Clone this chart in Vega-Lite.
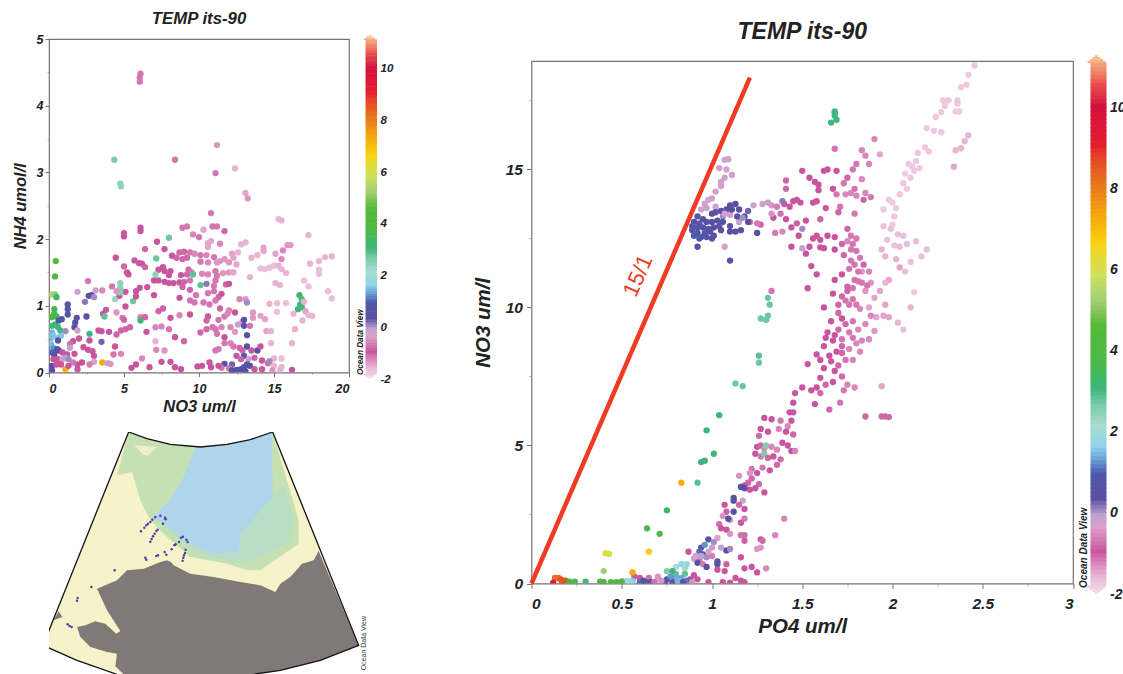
{"$schema":"https://vega.github.io/schema/vega-lite/v6.json","padding":{"left":11,"top":2,"right":0,"bottom":0},"background":"white",
"config":{"font":"Liberation Sans","view":{"stroke":"#7a706c","strokeWidth":1.2},"axis":{"grid":false,"domain":false,"labelFont":"Liberation Sans","labelFontStyle":"italic","labelFontWeight":"bold","labelColor":"#222","titleFont":"Liberation Sans","titleFontStyle":"italic","titleFontWeight":"bold","titleColor":"#222","tickColor":"#7a706c"},"title":{"font":"Liberation Sans","fontStyle":"italic","fontWeight":"bold","color":"#222"}},
"datasets":{
"a":[{"x":6.1,"y":4.48,"t":-1.2},{"x":6.05,"y":4.42,"t":-1.2},{"x":6.05,"y":4.36,"t":-1.2},{"x":11.2,"y":3.41,"t":-1.4},{"x":4.35,"y":3.19,"t":2.6},{"x":8.4,"y":3.19,"t":-1.2},{"x":12.4,"y":3.06,"t":-1.6},{"x":11.1,"y":2.99,"t":-1.2},{"x":4.75,"y":2.83,"t":2.4},{"x":4.8,"y":2.79,"t":2.4},{"x":13.1,"y":2.69,"t":-1.5},{"x":13.25,"y":2.61,"t":-1.4},{"x":10.8,"y":2.39,"t":-1.2},{"x":15.3,"y":2.3,"t":-1.6},{"x":15.5,"y":2.28,"t":-1.6},{"x":8.9,"y":2.17,"t":-1.2},{"x":9.2,"y":2.19,"t":-1.2},{"x":6.1,"y":2.17,"t":-1},{"x":6.1,"y":2.12,"t":-1},{"x":5,"y":2.09,"t":-1},{"x":5,"y":2.04,"t":-1},{"x":10.3,"y":2.14,"t":-1.5},{"x":10.9,"y":2.19,"t":-1.2},{"x":11.2,"y":2.19,"t":-1.2},{"x":11.7,"y":2.12,"t":-1.1},{"x":17.3,"y":2.06,"t":-1.6},{"x":8,"y":2.02,"t":2.7},{"x":9.6,"y":2.07,"t":-1.3},{"x":10,"y":2.03,"t":-1.2},{"x":7.2,"y":1.96,"t":-1},{"x":10.6,"y":1.94,"t":-1.5},{"x":10.8,"y":1.97,"t":-1.5},{"x":10.6,"y":1.88,"t":-1.5},{"x":11.4,"y":1.93,"t":-1.3},{"x":12.8,"y":1.92,"t":-1.6},{"x":13.1,"y":1.95,"t":-1.6},{"x":14.3,"y":1.87,"t":-1.5},{"x":14.3,"y":1.82,"t":-1.5},{"x":15.6,"y":1.83,"t":-1.3},{"x":15.9,"y":1.91,"t":-1.4},{"x":16.1,"y":1.91,"t":-1.4},{"x":6.4,"y":1.85,"t":-1.1},{"x":7.7,"y":1.85,"t":-1},{"x":8.7,"y":1.8,"t":-1.1},{"x":9,"y":1.81,"t":-1.1},{"x":9.4,"y":1.8,"t":-1.2},{"x":9.7,"y":1.78,"t":-1.3},{"x":10.1,"y":1.76,"t":-1.2},{"x":10.5,"y":1.76,"t":-1.3},{"x":11,"y":1.73,"t":-1.2},{"x":11.4,"y":1.67,"t":-1.4},{"x":11.7,"y":1.7,"t":-1.4},{"x":12.2,"y":1.78,"t":-1.5},{"x":12.3,"y":1.72,"t":-1.5},{"x":12.6,"y":1.8,"t":-1.6},{"x":13.5,"y":1.72,"t":-1.6},{"x":13.9,"y":1.76,"t":-1.6},{"x":15.1,"y":1.78,"t":-1.5},{"x":15.5,"y":1.7,"t":-1.3},{"x":4.45,"y":1.72,"t":-1},{"x":5.7,"y":1.68,"t":-1},{"x":6,"y":1.64,"t":-1},{"x":6.2,"y":1.63,"t":-1},{"x":6.4,"y":1.58,"t":-1.1},{"x":7.15,"y":1.71,"t":2.7},{"x":8.2,"y":1.75,"t":-1},{"x":8.5,"y":1.72,"t":-1.1},{"x":8.9,"y":1.7,"t":-1.1},{"x":9.2,"y":1.72,"t":-1.1},{"x":10.6,"y":1.65,"t":-1.3},{"x":10.1,"y":1.66,"t":-1.2},{"x":11.2,"y":1.65,"t":-1.4},{"x":12,"y":1.65,"t":-1.4},{"x":12.5,"y":1.62,"t":-1.5},{"x":17.4,"y":1.63,"t":-1.6},{"x":18,"y":1.67,"t":-1.6},{"x":18.4,"y":1.73,"t":-1.6},{"x":18.85,"y":1.74,"t":-1.6},{"x":14.1,"y":1.56,"t":-1.7},{"x":14.4,"y":1.55,"t":-1.7},{"x":14.7,"y":1.57,"t":-1.7},{"x":15,"y":1.6,"t":-1.7},{"x":15.3,"y":1.6,"t":-1.6},{"x":15.5,"y":1.55,"t":-1.6},{"x":15.8,"y":1.49,"t":-1.6},{"x":18,"y":1.54,"t":-1.7},{"x":18,"y":1.48,"t":-1.7},{"x":5,"y":1.59,"t":-1.1},{"x":5.2,"y":1.5,"t":-1},{"x":5.3,"y":1.47,"t":-1},{"x":7.3,"y":1.54,"t":-1},{"x":7.6,"y":1.58,"t":-1},{"x":7.7,"y":1.52,"t":-1},{"x":8,"y":1.46,"t":-1},{"x":8.1,"y":1.52,"t":-1},{"x":8.8,"y":1.46,"t":-1},{"x":9.2,"y":1.47,"t":-1.1},{"x":9.3,"y":1.54,"t":-1.1},{"x":9.5,"y":1.5,"t":-1.2},{"x":9.6,"y":1.47,"t":2.8},{"x":10.2,"y":1.48,"t":-1.3},{"x":10.6,"y":1.47,"t":-1.3},{"x":11.1,"y":1.52,"t":-1.2},{"x":11.2,"y":1.45,"t":-1.2},{"x":11.6,"y":1.49,"t":-1.4},{"x":12,"y":1.5,"t":-1.4},{"x":12.3,"y":1.5,"t":-1.5},{"x":13.4,"y":1.43,"t":-1.6},{"x":7.1,"y":1.47,"t":2.4},{"x":7,"y":1.38,"t":-1},{"x":7.3,"y":1.38,"t":-1},{"x":7.7,"y":1.36,"t":-1},{"x":8,"y":1.34,"t":-1},{"x":8.3,"y":1.34,"t":-1},{"x":8.7,"y":1.35,"t":-1},{"x":8.9,"y":1.28,"t":-1.1},{"x":9,"y":1.36,"t":-1.1},{"x":9.4,"y":1.38,"t":-1.2},{"x":10.1,"y":1.31,"t":2.8},{"x":10.5,"y":1.33,"t":0.1},{"x":11,"y":1.3,"t":-1.2},{"x":11.1,"y":1.38,"t":-1.2},{"x":11.8,"y":1.32,"t":-1.1},{"x":12,"y":1.33,"t":-1},{"x":15.1,"y":1.34,"t":-1.6},{"x":15.4,"y":1.31,"t":-1.6},{"x":17,"y":1.38,"t":-1.7},{"x":17.3,"y":1.29,"t":-1.7},{"x":18.6,"y":1.22,"t":-1.7},{"x":18.85,"y":1.11,"t":-1.7},{"x":5.1,"y":1.21,"t":-1},{"x":5.8,"y":1.22,"t":-1},{"x":6.05,"y":1.27,"t":-1},{"x":6.55,"y":1.28,"t":-1},{"x":7,"y":1.16,"t":-1},{"x":8.7,"y":1.12,"t":-1},{"x":9.4,"y":1.24,"t":-1.1},{"x":9.8,"y":1.16,"t":-1.2},{"x":10.6,"y":1.19,"t":-1.2},{"x":11,"y":1.22,"t":-1.2},{"x":11.3,"y":1.13,"t":-1.1},{"x":11.5,"y":1.18,"t":-1},{"x":9.4,"y":1.08,"t":-1.2},{"x":9.7,"y":1.05,"t":-1.2},{"x":10.3,"y":1.05,"t":-1.2},{"x":10.7,"y":1.02,"t":-1.2},{"x":11.1,"y":1.08,"t":-1.2},{"x":12.7,"y":1.1,"t":-1.3},{"x":13.1,"y":1.1,"t":-1.4},{"x":13.2,"y":1.05,"t":0},{"x":14.7,"y":1.03,"t":-1.6},{"x":15.2,"y":1.04,"t":-1.7},{"x":15.8,"y":1.04,"t":-1.7},{"x":16.7,"y":1.16,"t":3.2},{"x":16.85,"y":1.1,"t":2.9},{"x":16.75,"y":1.02,"t":3},{"x":16.6,"y":0.95,"t":3},{"x":16.85,"y":0.98,"t":3},{"x":17,"y":1.06,"t":-1.6},{"x":17.1,"y":0.92,"t":-1.5},{"x":17.3,"y":0.86,"t":-1.6},{"x":17.55,"y":0.85,"t":-1.6},{"x":16.3,"y":0.88,"t":-1.6},{"x":16.9,"y":0.78,"t":-1.6},{"x":15.2,"y":0.91,"t":-1.7},{"x":5.6,"y":1.07,"t":2.7},{"x":5.8,"y":1.14,"t":-1},{"x":4.4,"y":1.1,"t":2.3},{"x":4.7,"y":1.15,"t":-1},{"x":4.75,"y":1.2,"t":2.5},{"x":4.75,"y":1.27,"t":2.5},{"x":4.75,"y":1.34,"t":2.4},{"x":4.2,"y":1.29,"t":-1.2},{"x":4.5,"y":1.22,"t":-1.4},{"x":5.1,"y":0.99,"t":-1},{"x":3.8,"y":0.94,"t":-1},{"x":3.6,"y":0.88,"t":-1},{"x":3.7,"y":0.84,"t":2.8},{"x":4.5,"y":0.9,"t":-1.4},{"x":4.9,"y":0.82,"t":-1.2},{"x":5,"y":0.79,"t":-1.1},{"x":6.1,"y":0.83,"t":-1.3},{"x":6.1,"y":0.78,"t":3.1},{"x":6.4,"y":0.83,"t":-1.1},{"x":7.3,"y":0.92,"t":-1.1},{"x":7.6,"y":0.96,"t":-1.1},{"x":8.1,"y":0.82,"t":-1},{"x":8.7,"y":0.86,"t":-1.3},{"x":9.4,"y":0.87,"t":-1},{"x":10.6,"y":0.84,"t":-1},{"x":10.5,"y":0.78,"t":-1.1},{"x":11.3,"y":0.79,"t":-1.2},{"x":11.7,"y":0.84,"t":-1.2},{"x":11.4,"y":0.96,"t":-1.1},{"x":12,"y":0.93,"t":-1.3},{"x":12.4,"y":0.9,"t":-1},{"x":11.9,"y":0.88,"t":-1.3},{"x":12.9,"y":0.76,"t":-1.3},{"x":13,"y":0.79,"t":0.5},{"x":12.6,"y":0.72,"t":-0.2},{"x":13,"y":0.7,"t":0.6},{"x":13.4,"y":0.7,"t":-1.2},{"x":13.6,"y":0.82,"t":-1.4},{"x":13.6,"y":0.9,"t":-1.4},{"x":14.1,"y":0.85,"t":-1.5},{"x":14.4,"y":0.8,"t":-1.5},{"x":14.5,"y":0.62,"t":-1.5},{"x":14.8,"y":0.62,"t":-1.6},{"x":10.5,"y":0.65,"t":-1.1},{"x":10.9,"y":0.68,"t":-1.2},{"x":11.1,"y":0.65,"t":-1.2},{"x":11.5,"y":0.68,"t":-1.3},{"x":12.1,"y":0.68,"t":-1.3},{"x":12.4,"y":0.61,"t":-1.4},{"x":13.2,"y":0.56,"t":0.6},{"x":11.7,"y":0.53,"t":-1},{"x":11.2,"y":0.58,"t":-1.2},{"x":10.1,"y":0.6,"t":-1.1},{"x":14.8,"y":0.44,"t":-1.6},{"x":16.2,"y":0.44,"t":-1.6},{"x":16.4,"y":0.65,"t":-1.6},{"x":3.3,"y":0.63,"t":-1},{"x":3.5,"y":0.62,"t":-1},{"x":4,"y":0.61,"t":-1},{"x":4.5,"y":0.57,"t":-1.1},{"x":4.8,"y":0.63,"t":-1.1},{"x":5.1,"y":0.65,"t":-1.1},{"x":5.4,"y":0.68,"t":-1.1},{"x":6.5,"y":0.61,"t":-1},{"x":7.1,"y":0.68,"t":-1.3},{"x":7.5,"y":0.69,"t":-1.3},{"x":8,"y":0.65,"t":-1.2},{"x":8.4,"y":0.53,"t":-1},{"x":9,"y":0.47,"t":-1.1},{"x":7.1,"y":0.47,"t":-1.6},{"x":2.7,"y":0.58,"t":3},{"x":2,"y":0.51,"t":-1},{"x":2.7,"y":0.48,"t":-1},{"x":3.5,"y":0.46,"t":0.2},{"x":4.4,"y":0.39,"t":-1},{"x":2.3,"y":0.38,"t":-1},{"x":2.6,"y":0.34,"t":-1},{"x":2.9,"y":0.32,"t":-1},{"x":3,"y":0.25,"t":-1},{"x":4.3,"y":0.27,"t":-1.2},{"x":4.8,"y":0.28,"t":-1.3},{"x":7.15,"y":0.34,"t":-1.3},{"x":7.7,"y":0.33,"t":-1.4},{"x":11.1,"y":0.33,"t":-1.2},{"x":11.3,"y":0.35,"t":-1.2},{"x":11.7,"y":0.44,"t":-1.2},{"x":12.1,"y":0.44,"t":-1.3},{"x":12.3,"y":0.39,"t":-1.2},{"x":12.7,"y":0.37,"t":-1.1},{"x":12.9,"y":0.33,"t":-1.1},{"x":13.2,"y":0.39,"t":0.5},{"x":13,"y":0.25,"t":0.6},{"x":13.5,"y":0.33,"t":-1},{"x":13.9,"y":0.33,"t":0.5},{"x":14.1,"y":0.39,"t":-1},{"x":12.5,"y":0.25,"t":-1},{"x":12.8,"y":0.2,"t":-1.1},{"x":13.3,"y":0.2,"t":-0.2},{"x":13.7,"y":0.22,"t":-1.1},{"x":14.2,"y":0.18,"t":-1},{"x":14.6,"y":0.14,"t":-1.1},{"x":15,"y":0.21,"t":-1.6},{"x":15.5,"y":0.21,"t":-1.7},{"x":15,"y":0.1,"t":-1.6},{"x":15.5,"y":0.08,"t":-1.6},{"x":14.7,"y":0.17,"t":0},{"x":11.7,"y":0.13,"t":0.5},{"x":12.2,"y":0.12,"t":0.2},{"x":11.5,"y":0.07,"t":-1.2},{"x":12,"y":0.06,"t":-1.2},{"x":12.2,"y":0.03,"t":0.6},{"x":12.5,"y":0.04,"t":0.5},{"x":12.8,"y":0.05,"t":0.5},{"x":13,"y":0.08,"t":0.5},{"x":13.2,"y":0.12,"t":0.5},{"x":13.4,"y":0.1,"t":0.5},{"x":13.1,"y":0.02,"t":0.5},{"x":13.7,"y":0.05,"t":-1},{"x":14.2,"y":0.05,"t":-1},{"x":14.9,"y":0.03,"t":-1.4},{"x":15.4,"y":0.03,"t":-1.6},{"x":16.2,"y":0.04,"t":-1},{"x":5.5,"y":0.07,"t":-1},{"x":5.8,"y":0.12,"t":-1},{"x":6.2,"y":0.21,"t":-1.3},{"x":6.7,"y":0.08,"t":-1},{"x":7.5,"y":0.16,"t":-1},{"x":8.1,"y":0.16,"t":-1},{"x":8.4,"y":0.08,"t":-1},{"x":8.8,"y":0.05,"t":-1},{"x":9.9,"y":0.09,"t":-1},{"x":10.2,"y":0.1,"t":-1},{"x":10.7,"y":0.15,"t":-1},{"x":10.8,"y":0.08,"t":-1},{"x":11.3,"y":0.1,"t":-1},{"x":3.55,"y":0.15,"t":7.2},{"x":3.9,"y":0.14,"t":-0.3},{"x":4.1,"y":0.13,"t":-0.5},{"x":3,"y":0.16,"t":-0.4},{"x":2.7,"y":0.12,"t":-0.7},{"x":2.2,"y":0.15,"t":-1},{"x":1.9,"y":0.12,"t":-1},{"x":1.6,"y":0.15,"t":-1.2},{"x":1.1,"y":0.05,"t":7.2},{"x":0.4,"y":1.17,"t":5},{"x":0.2,"y":1.17,"t":5.2},{"x":0.45,"y":1.67,"t":4},{"x":0.4,"y":1.44,"t":4},{"x":0.5,"y":1.13,"t":3.2},{"x":0.35,"y":0.95,"t":3.5},{"x":0.35,"y":0.88,"t":3.6},{"x":0.15,"y":0.83,"t":3.8},{"x":0.3,"y":0.84,"t":3.8},{"x":0.5,"y":0.84,"t":3.8},{"x":0.2,"y":0.7,"t":3},{"x":0.4,"y":0.72,"t":3},{"x":0.6,"y":0.68,"t":3},{"x":0.75,"y":0.63,"t":3},{"x":0.2,"y":0.6,"t":1.4},{"x":0.15,"y":0.52,"t":1.4},{"x":0.3,"y":0.55,"t":1.5},{"x":0.6,"y":0.52,"t":1.5},{"x":0.8,"y":0.55,"t":1.5},{"x":0.15,"y":0.42,"t":1.4},{"x":0.3,"y":0.36,"t":1.2},{"x":0.2,"y":0.3,"t":1},{"x":0.85,"y":0.8,"t":0.6},{"x":0.65,"y":0.78,"t":0.7},{"x":1.25,"y":1.02,"t":0.6},{"x":1.25,"y":0.95,"t":0.7},{"x":1.25,"y":0.87,"t":0.7},{"x":1.85,"y":0.82,"t":0.5},{"x":1.75,"y":0.75,"t":0.5},{"x":1.7,"y":0.68,"t":0.6},{"x":2.5,"y":0.84,"t":0.5},{"x":2.4,"y":1.06,"t":0.1},{"x":2.65,"y":1.15,"t":0.4},{"x":2.85,"y":1.16,"t":0.4},{"x":3,"y":1.13,"t":0},{"x":3.1,"y":1.23,"t":-0.2},{"x":3.55,"y":1.23,"t":-0.6},{"x":2.6,"y":1.37,"t":-1.2},{"x":1.9,"y":1.21,"t":-0.3},{"x":1.1,"y":0.62,"t":0},{"x":1.9,"y":0.63,"t":-0.3},{"x":0.6,"y":0.48,"t":0.7},{"x":1.6,"y":0.47,"t":-1},{"x":1.4,"y":0.43,"t":-0.8},{"x":1.4,"y":0.37,"t":-0.2},{"x":0.55,"y":0.35,"t":0.6},{"x":0.65,"y":0.33,"t":0.5},{"x":0.35,"y":0.27,"t":0.4},{"x":0.9,"y":0.3,"t":-1},{"x":1.2,"y":0.27,"t":-1},{"x":1.7,"y":0.28,"t":-1},{"x":0.3,"y":0.2,"t":-1},{"x":0.6,"y":0.2,"t":-1},{"x":0.9,"y":0.2,"t":-0.3},{"x":1.1,"y":0.22,"t":-0.1},{"x":1.3,"y":0.2,"t":0},{"x":0.2,"y":0.1,"t":0.4},{"x":0.5,"y":0.12,"t":-1},{"x":0.8,"y":0.12,"t":-1},{"x":1.3,"y":0.1,"t":-1},{"x":1.9,"y":0.05,"t":-1},{"x":0.2,"y":0.03,"t":0.3}],
"b":[{"x":2.455,"y":18.77,"t":-1.8},{"x":2.42,"y":18.43,"t":-1.8},{"x":2.41,"y":18.07,"t":-1.8},{"x":2.38,"y":17.98,"t":-1.8},{"x":2.36,"y":17.5,"t":-1.8},{"x":2.36,"y":17.38,"t":-1.8},{"x":2.37,"y":17.1,"t":-1.8},{"x":2.35,"y":17.1,"t":-1.8},{"x":2.31,"y":17.5,"t":-1.8},{"x":2.28,"y":17.5,"t":-1.8},{"x":2.27,"y":17.08,"t":-1.8},{"x":2.29,"y":17.3,"t":-1.8},{"x":2.24,"y":16.9,"t":-1.8},{"x":2.19,"y":16.5,"t":-1.8},{"x":2.23,"y":16.4,"t":-1.8},{"x":2.27,"y":16.35,"t":-1.8},{"x":2.42,"y":16.23,"t":-1.6},{"x":2.4,"y":16.03,"t":-1.6},{"x":2.38,"y":15.77,"t":-1.6},{"x":2.35,"y":15.7,"t":-1.6},{"x":2.34,"y":15.1,"t":-1.5},{"x":2.18,"y":15.8,"t":-1.8},{"x":2.2,"y":15.65,"t":-1.8},{"x":2.14,"y":15.6,"t":-1.8},{"x":2.13,"y":15.3,"t":-1.8},{"x":2.11,"y":15.1,"t":-1.8},{"x":2.09,"y":15.2,"t":-1.8},{"x":2.07,"y":14.85,"t":-1.8},{"x":2.06,"y":14.5,"t":-1.8},{"x":2.08,"y":14.3,"t":-1.8},{"x":2.1,"y":14.7,"t":-1.8},{"x":2.04,"y":14.1,"t":-1.8},{"x":2,"y":13.8,"t":-1.8},{"x":2.02,"y":13.6,"t":-1.8},{"x":2.01,"y":13.3,"t":-1.8},{"x":2,"y":13,"t":-1.8},{"x":1.98,"y":13.9,"t":-1.8},{"x":1.95,"y":13.55,"t":-1.8},{"x":2.12,"y":14.95,"t":-1.8},{"x":2.15,"y":15.05,"t":-1.8},{"x":1.95,"y":12.95,"t":-1.7},{"x":1.99,"y":12.85,"t":-1.7},{"x":2.03,"y":12.65,"t":-1.7},{"x":2.06,"y":12.6,"t":-1.7},{"x":1.97,"y":12.45,"t":-1.7},{"x":2.01,"y":12.25,"t":-1.7},{"x":2.04,"y":12.2,"t":-1.7},{"x":2.08,"y":12.3,"t":-1.7},{"x":2.13,"y":12.4,"t":-1.7},{"x":1.94,"y":12.1,"t":-1.6},{"x":1.96,"y":11.85,"t":-1.6},{"x":2.02,"y":11.75,"t":-1.6},{"x":2.1,"y":11.65,"t":-1.7},{"x":2.16,"y":11.85,"t":-1.7},{"x":2.19,"y":12.1,"t":-1.7},{"x":2.07,"y":11.3,"t":-1.7},{"x":2.12,"y":10.55,"t":-1.8},{"x":2.1,"y":10,"t":-1.6},{"x":2.04,"y":11.45,"t":-1.5},{"x":1.98,"y":11,"t":-1.5},{"x":1.96,"y":10.9,"t":-1.6},{"x":1.93,"y":10.6,"t":-1.5},{"x":1.9,"y":10.35,"t":-1.5},{"x":1.85,"y":10.6,"t":-1.4},{"x":1.88,"y":10.9,"t":-1.4},{"x":1.83,"y":11.3,"t":-1.4},{"x":1.96,"y":10.1,"t":-1.5},{"x":1.91,"y":9.65,"t":-1.5},{"x":1.87,"y":10,"t":-1.5},{"x":1.95,"y":9.7,"t":-1.5},{"x":1.98,"y":9.65,"t":-1.5},{"x":2.03,"y":9.45,"t":-1.6},{"x":2.06,"y":9.2,"t":-1.7},{"x":1.68,"y":15.75,"t":-1.2},{"x":1.9,"y":16.1,"t":-1.3},{"x":1.93,"y":15.55,"t":-1.5},{"x":1.83,"y":15.7,"t":-1.3},{"x":1.85,"y":15.5,"t":-1.3},{"x":1.87,"y":15.2,"t":-1.3},{"x":1.8,"y":15.2,"t":-1.2},{"x":1.78,"y":15,"t":-1.2},{"x":1.75,"y":14.7,"t":-1.1},{"x":1.83,"y":14.65,"t":-1.3},{"x":1.79,"y":14.3,"t":-1.2},{"x":1.85,"y":14.15,"t":-1.3},{"x":1.73,"y":14.5,"t":-1.2},{"x":1.69,"y":14.1,"t":-1.2},{"x":1.74,"y":14.1,"t":-1.3},{"x":1.77,"y":14.15,"t":-1.3},{"x":1.8,"y":14.05,"t":-1.3},{"x":1.84,"y":13.9,"t":-1.1},{"x":1.88,"y":14,"t":-1.2},{"x":1.5,"y":14.95,"t":-1},{"x":1.54,"y":14.7,"t":-1},{"x":1.57,"y":14.55,"t":-1},{"x":1.59,"y":14.45,"t":-1},{"x":1.62,"y":14.95,"t":-1},{"x":1.64,"y":15,"t":-1},{"x":1.69,"y":14.95,"t":-1},{"x":1.41,"y":14.6,"t":-1.1},{"x":1.41,"y":14.3,"t":-1.1},{"x":1.59,"y":14.25,"t":-1},{"x":1.67,"y":14.3,"t":-1},{"x":1.45,"y":13.85,"t":-1},{"x":1.47,"y":13.9,"t":-1},{"x":1.49,"y":13.8,"t":-1},{"x":1.56,"y":13.8,"t":-1},{"x":1.58,"y":13.85,"t":-1},{"x":1.4,"y":13.75,"t":-1},{"x":1.63,"y":13.6,"t":-1},{"x":1.71,"y":13.65,"t":-1.2},{"x":1.79,"y":13.4,"t":-1.2},{"x":1.6,"y":13.2,"t":-1.1},{"x":1.52,"y":13.15,"t":-1},{"x":1.7,"y":13.45,"t":-1.1},{"x":1.6,"y":12.45,"t":-1},{"x":1.62,"y":12.15,"t":-1},{"x":1.56,"y":12.5,"t":-1},{"x":1.58,"y":12.6,"t":-1},{"x":1.64,"y":12.6,"t":-1},{"x":1.68,"y":12.55,"t":-1},{"x":1.54,"y":12.2,"t":-1},{"x":1.6,"y":12.18,"t":-1},{"x":1.68,"y":12.1,"t":-1},{"x":1.75,"y":12.85,"t":-1.1},{"x":1.75,"y":12.4,"t":-1.3},{"x":1.77,"y":12.6,"t":-1.2},{"x":1.78,"y":12.3,"t":-1.2},{"x":1.8,"y":12.05,"t":-1.2},{"x":1.82,"y":11.8,"t":-1.2},{"x":1.77,"y":11.7,"t":-1.2},{"x":1.79,"y":11.55,"t":-1.2},{"x":1.81,"y":11.3,"t":-1.2},{"x":1.84,"y":11.55,"t":-1.1},{"x":1.87,"y":11.3,"t":-1.3},{"x":1.79,"y":11,"t":-1.2},{"x":1.81,"y":10.95,"t":-1.2},{"x":1.83,"y":10.9,"t":-1.2},{"x":1.86,"y":10.8,"t":-1.2},{"x":1.75,"y":10.75,"t":-1.1},{"x":1.55,"y":11.5,"t":-1},{"x":1.58,"y":11.2,"t":-1},{"x":1.68,"y":11,"t":-1},{"x":1.53,"y":10.7,"t":-1},{"x":1.7,"y":10.1,"t":-1.1},{"x":1.72,"y":10.4,"t":-1.1},{"x":1.74,"y":10.25,"t":-1.2},{"x":1.76,"y":10.1,"t":-1.2},{"x":1.78,"y":10.3,"t":-1.2},{"x":1.8,"y":10.1,"t":-1.2},{"x":1.82,"y":9.95,"t":-1.3},{"x":1.7,"y":9.8,"t":-1.1},{"x":1.66,"y":9.5,"t":-1},{"x":1.72,"y":9.6,"t":-1},{"x":1.74,"y":9.4,"t":-1.1},{"x":1.78,"y":9.5,"t":-1.2},{"x":1.81,"y":9.2,"t":-1.3},{"x":1.85,"y":9.4,"t":-1.3},{"x":1.88,"y":9.7,"t":-1.3},{"x":1.9,"y":9.15,"t":-1.4},{"x":1.87,"y":8.85,"t":-1.3},{"x":1.83,"y":8.8,"t":-1.3},{"x":1.8,"y":8.7,"t":-1.3},{"x":1.76,"y":8.5,"t":-1.3},{"x":1.72,"y":8.6,"t":-1.1},{"x":1.69,"y":8.4,"t":-1},{"x":1.65,"y":8.25,"t":-1},{"x":1.72,"y":8.35,"t":-1.1},{"x":1.66,"y":8.05,"t":-1},{"x":1.62,"y":7.8,"t":-1},{"x":1.6,"y":7.45,"t":-1},{"x":1.68,"y":7.7,"t":-1},{"x":1.72,"y":7.5,"t":-1.1},{"x":1.63,"y":7.2,"t":-1.1},{"x":1.6,"y":6.9,"t":-1.1},{"x":1.57,"y":6.5,"t":-1},{"x":1.55,"y":7,"t":-1},{"x":1.58,"y":7.1,"t":-1},{"x":1.75,"y":7.2,"t":-1.3},{"x":1.79,"y":7.1,"t":-1.3},{"x":1.73,"y":7,"t":-1.2},{"x":1.5,"y":7.1,"t":-1},{"x":1.46,"y":6.9,"t":-1},{"x":1.94,"y":7.15,"t":-1.5},{"x":1.71,"y":6.55,"t":-1.2},{"x":1.65,"y":6.3,"t":-1.1},{"x":1.85,"y":6.05,"t":-1.1},{"x":1.94,"y":6.05,"t":-1.1},{"x":1.96,"y":6.05,"t":-1.1},{"x":1.98,"y":6.03,"t":-1.1},{"x":1.72,"y":8.85,"t":-1.2},{"x":1.74,"y":8.1,"t":-1.2},{"x":1.64,"y":9.1,"t":-1},{"x":1.58,"y":8.3,"t":-1},{"x":1.53,"y":7.95,"t":-1},{"x":1.45,"y":6.55,"t":-1},{"x":1.45,"y":6.2,"t":-1},{"x":1.43,"y":6.2,"t":-1},{"x":1.38,"y":5.9,"t":-1.2},{"x":1.44,"y":5.9,"t":-1},{"x":1.42,"y":5.7,"t":-1.3},{"x":1.37,"y":5.6,"t":-1.3},{"x":1.41,"y":5.5,"t":-1},{"x":1.45,"y":5.4,"t":-1.1},{"x":1.39,"y":5.1,"t":-1},{"x":1.44,"y":4.8,"t":-1},{"x":1.42,"y":5,"t":-1},{"x":1.46,"y":4.8,"t":-1.3},{"x":1.36,"y":4.85,"t":-1.3},{"x":1.29,"y":6,"t":-1},{"x":1.33,"y":5.95,"t":-1},{"x":1.31,"y":5.5,"t":-1},{"x":1.27,"y":5.6,"t":-1},{"x":1.26,"y":5.35,"t":-1.1},{"x":1.25,"y":4.95,"t":-1},{"x":1.27,"y":5,"t":-1.1},{"x":1.29,"y":4.9,"t":-1.3},{"x":1.3,"y":5,"t":2.5},{"x":1.33,"y":4.95,"t":-1.3},{"x":1.24,"y":4.7,"t":-1},{"x":1.27,"y":4.6,"t":-1.2},{"x":1.29,"y":4.7,"t":2.6},{"x":1.31,"y":4.55,"t":-1.1},{"x":1.34,"y":4.6,"t":-1},{"x":1.38,"y":4.5,"t":-1.1},{"x":1.36,"y":4.3,"t":-1.1},{"x":1.28,"y":4.2,"t":-1.2},{"x":1.22,"y":4.15,"t":-1.2},{"x":1.25,"y":4,"t":-1},{"x":1.32,"y":4.1,"t":-1},{"x":1.21,"y":4,"t":-0.5},{"x":1.22,"y":3.8,"t":-1.1},{"x":1.26,"y":3.6,"t":-1.1},{"x":1.2,"y":3.65,"t":-1.1},{"x":1.18,"y":3.55,"t":-1},{"x":1.24,"y":3.45,"t":-1},{"x":1.21,"y":3.4,"t":-1},{"x":1.29,"y":3.3,"t":-1},{"x":1.15,"y":3.9,"t":-0.5},{"x":1.16,"y":3.5,"t":0.4},{"x":1.18,"y":3.45,"t":0.3},{"x":1.12,"y":3.1,"t":0.3},{"x":1.12,"y":3,"t":0.5},{"x":1.17,"y":3,"t":-0.3},{"x":1.15,"y":2.85,"t":-1.1},{"x":1.07,"y":2.85,"t":-1},{"x":1.18,"y":2.7,"t":-1},{"x":1.08,"y":2.6,"t":-0.9},{"x":1.12,"y":2.6,"t":0.5},{"x":1.06,"y":2.45,"t":-0.5},{"x":1.1,"y":2.3,"t":-0.3},{"x":1.09,"y":2.35,"t":0.5},{"x":1.18,"y":2.35,"t":-0.7},{"x":1.16,"y":2.2,"t":-1},{"x":1.04,"y":2.15,"t":-0.8},{"x":1.05,"y":2,"t":-1},{"x":1.08,"y":1.95,"t":-1},{"x":1.1,"y":1.8,"t":-0.5},{"x":1.16,"y":1.75,"t":-0.8},{"x":1.18,"y":1.75,"t":-0.8},{"x":1.03,"y":1.65,"t":-0.4},{"x":0.98,"y":1.6,"t":0.5},{"x":1.01,"y":1.5,"t":0},{"x":1.18,"y":1.55,"t":-0.9},{"x":1.27,"y":1.6,"t":-1},{"x":1.35,"y":1.75,"t":-1.3},{"x":1.4,"y":2.35,"t":-1.3},{"x":1.28,"y":1.55,"t":-1.1},{"x":1.27,"y":1.3,"t":-1.4},{"x":1.25,"y":1.25,"t":-1.4},{"x":1.08,"y":1.2,"t":0.4},{"x":1.1,"y":1.25,"t":0},{"x":1,"y":1.3,"t":-0.2},{"x":1.05,"y":1.3,"t":-0.2},{"x":0.94,"y":1.3,"t":0.9},{"x":0.96,"y":1.4,"t":1.2},{"x":0.93,"y":1.15,"t":1},{"x":0.95,"y":1.05,"t":0.3},{"x":1,"y":1,"t":-0.7},{"x":0.87,"y":1.15,"t":-1},{"x":0.97,"y":0.95,"t":0},{"x":0.9,"y":0.9,"t":-0.3},{"x":0.93,"y":0.85,"t":0},{"x":0.92,"y":0.75,"t":0.3},{"x":0.95,"y":0.7,"t":-0.7},{"x":1.03,"y":0.8,"t":0.5},{"x":1.03,"y":0.7,"t":0.5},{"x":1.16,"y":0.95,"t":-1},{"x":1.08,"y":0.7,"t":-0.9},{"x":0.97,"y":0.6,"t":0.4},{"x":1.03,"y":0.5,"t":-1},{"x":1.07,"y":0.45,"t":-1},{"x":1.18,"y":0.55,"t":-1},{"x":1.22,"y":0.6,"t":-1},{"x":1.25,"y":0.4,"t":-1},{"x":1.3,"y":0.55,"t":-1.3},{"x":1.13,"y":0.2,"t":-1},{"x":1.16,"y":0.1,"t":-1},{"x":1.18,"y":0.05,"t":-1},{"x":1.06,"y":0.05,"t":-1},{"x":1.1,"y":0.03,"t":-1},{"x":0.98,"y":0.05,"t":-1},{"x":0.83,"y":0.7,"t":1.6},{"x":0.8,"y":0.6,"t":2},{"x":0.86,"y":0.7,"t":1.8},{"x":0.85,"y":0.55,"t":2.2},{"x":0.8,"y":0.35,"t":2.8},{"x":0.75,"y":0.45,"t":2.6},{"x":0.85,"y":0.35,"t":2.8},{"x":0.83,"y":0.2,"t":1.3},{"x":0.8,"y":0.2,"t":1.3},{"x":0.86,"y":0.1,"t":1.1},{"x":0.75,"y":0.15,"t":0.4},{"x":0.7,"y":0.15,"t":-0.3},{"x":0.78,"y":0.05,"t":0.5},{"x":0.88,"y":0.15,"t":0.2},{"x":0.65,"y":0.2,"t":-0.8},{"x":0.6,"y":0.2,"t":-1},{"x":0.57,"y":0.25,"t":-1},{"x":0.63,"y":0.05,"t":0.5},{"x":0.6,"y":0.05,"t":1},{"x":0.56,"y":0.1,"t":1.5},{"x":0.55,"y":0.05,"t":1.7},{"x":0.53,"y":0.1,"t":2},{"x":0.5,"y":0.08,"t":3.6},{"x":0.47,"y":0.05,"t":3.8},{"x":0.44,"y":0.05,"t":3.8},{"x":0.4,"y":0.05,"t":3.8},{"x":0.38,"y":0.07,"t":3.8},{"x":0.3,"y":0.07,"t":3},{"x":0.24,"y":0.07,"t":3.8},{"x":0.21,"y":0.07,"t":3.8},{"x":0.19,"y":0.1,"t":3.8},{"x":0.56,"y":0.4,"t":7.3},{"x":0.15,"y":0.2,"t":8.2},{"x":0.13,"y":0.2,"t":8.2},{"x":0.16,"y":0.15,"t":8.5},{"x":0.18,"y":0.1,"t":8.5},{"x":0.12,"y":0.02,"t":9.5},{"x":0.17,"y":0.05,"t":8.5},{"x":0.41,"y":1.1,"t":6},{"x":0.43,"y":1.07,"t":6},{"x":0.4,"y":0.45,"t":5.2},{"x":0.65,"y":1.15,"t":6.7},{"x":0.71,"y":1.8,"t":3.7},{"x":0.64,"y":2,"t":3.5},{"x":0.75,"y":2.65,"t":3.3},{"x":0.83,"y":3.65,"t":7.2},{"x":0.92,"y":3.65,"t":2.8},{"x":0.94,"y":4.4,"t":3},{"x":0.96,"y":4.45,"t":3},{"x":1.01,"y":4.7,"t":3},{"x":0.97,"y":5.55,"t":3},{"x":1.04,"y":6.1,"t":3},{"x":1.13,"y":7.25,"t":2.7},{"x":1.17,"y":7.15,"t":2.7},{"x":1.26,"y":8.25,"t":2.8},{"x":1.26,"y":8,"t":2.7},{"x":1.31,"y":10.35,"t":2.7},{"x":1.33,"y":10.6,"t":-1.2},{"x":1.32,"y":10.1,"t":2.7},{"x":1.3,"y":9.55,"t":2.7},{"x":1.27,"y":9.6,"t":2.7},{"x":1.31,"y":9.7,"t":2.7},{"x":1.68,"y":17.1,"t":3},{"x":1.68,"y":16.95,"t":3},{"x":1.69,"y":16.8,"t":3},{"x":1.66,"y":16.7,"t":3},{"x":1.68,"y":17.05,"t":3},{"x":1.07,"y":15.35,"t":-0.3},{"x":1.09,"y":15.37,"t":-0.3},{"x":1.04,"y":15.05,"t":-0.3},{"x":1.08,"y":15,"t":-0.3},{"x":1.11,"y":14.8,"t":-0.3},{"x":1.07,"y":14.7,"t":-0.3},{"x":1.05,"y":14.55,"t":-0.3},{"x":1.02,"y":14.2,"t":-0.3},{"x":1.05,"y":14.4,"t":-0.3},{"x":1,"y":13.95,"t":-0.3},{"x":0.98,"y":13.9,"t":-0.3},{"x":0.96,"y":13.75,"t":-0.3},{"x":0.94,"y":13.55,"t":-0.3},{"x":0.97,"y":13.6,"t":-0.2},{"x":1.02,"y":13.65,"t":-0.3},{"x":1.1,"y":13.35,"t":-0.3},{"x":1.06,"y":13.3,"t":0},{"x":1.15,"y":13.1,"t":-0.2},{"x":1.15,"y":13.55,"t":0.3},{"x":1.2,"y":13.5,"t":0.2},{"x":1.23,"y":13.7,"t":-0.3},{"x":1.28,"y":13.75,"t":-0.3},{"x":1.31,"y":13.8,"t":-0.2},{"x":1.33,"y":13.7,"t":-0.5},{"x":1.36,"y":13.65,"t":-0.7},{"x":1.39,"y":13.85,"t":0.1},{"x":1.43,"y":13.65,"t":-1},{"x":1.38,"y":13.4,"t":-0.8},{"x":1.41,"y":13.2,"t":-1},{"x":1.34,"y":13.25,"t":-1},{"x":1.44,"y":12.9,"t":-1},{"x":1.47,"y":13.05,"t":-0.9},{"x":1.5,"y":12.85,"t":0},{"x":1.44,"y":12.2,"t":-1},{"x":1.5,"y":12.15,"t":-0.2},{"x":1.52,"y":11.95,"t":-1},{"x":1.33,"y":13.4,"t":-0.5},{"x":1.27,"y":13,"t":-0.9},{"x":1.25,"y":12.7,"t":0.5},{"x":1.39,"y":12.75,"t":-0.6},{"x":1.35,"y":12.7,"t":-0.7},{"x":1.21,"y":13.1,"t":-0.8},{"x":0.92,"y":13.3,"t":0.6},{"x":0.95,"y":13.2,"t":0.5},{"x":0.9,"y":13.1,"t":0.6},{"x":0.93,"y":13.05,"t":0.6},{"x":0.97,"y":13.1,"t":0.5},{"x":1,"y":13.1,"t":0.5},{"x":1.03,"y":13.15,"t":0.5},{"x":1.06,"y":13.1,"t":0.5},{"x":0.89,"y":12.95,"t":0.7},{"x":0.92,"y":12.9,"t":0.6},{"x":0.95,"y":12.9,"t":0.6},{"x":0.98,"y":12.85,"t":0.5},{"x":1.01,"y":12.9,"t":0.5},{"x":1.04,"y":12.95,"t":0.5},{"x":0.89,"y":12.8,"t":0.8},{"x":0.92,"y":12.7,"t":0.8},{"x":0.96,"y":12.7,"t":0.7},{"x":0.99,"y":12.75,"t":0.6},{"x":0.9,"y":12.6,"t":0.9},{"x":0.94,"y":12.55,"t":0.8},{"x":0.97,"y":12.55,"t":0.6},{"x":1.01,"y":12.6,"t":0.5},{"x":1.05,"y":12.8,"t":0.5},{"x":0.93,"y":12.5,"t":0.9},{"x":0.92,"y":12.2,"t":0.6},{"x":1,"y":12.5,"t":0.4},{"x":1.1,"y":12.95,"t":0.3},{"x":1.13,"y":12.75,"t":0.4},{"x":1.1,"y":12.75,"t":0.3},{"x":1.16,"y":12.8,"t":0.4},{"x":1,"y":13.4,"t":0.3},{"x":1.02,"y":13.45,"t":0.4},{"x":1.05,"y":13.5,"t":0.4},{"x":1.08,"y":13.55,"t":0.5},{"x":1.1,"y":13.7,"t":0.3},{"x":1.13,"y":13.75,"t":0.3},{"x":1.11,"y":13.55,"t":0.4},{"x":1.18,"y":13.3,"t":0.4},{"x":1.14,"y":13.3,"t":0.4},{"x":1.2,"y":13.1,"t":0.3},{"x":1.17,"y":13.25,"t":0},{"x":1.07,"y":13.4,"t":-0.3},{"x":1.1,"y":11.7,"t":0.3},{"x":1.07,"y":12.2,"t":-0.4},{"x":1.25,"y":13.05,"t":-0.7},{"x":1.48,"y":12.6,"t":-1},{"x":1.63,"y":8.9,"t":-1},{"x":1.67,"y":8.8,"t":-1},{"x":1.7,"y":9.2,"t":-1.1},{"x":1.76,"y":9.1,"t":-1.2},{"x":1.68,"y":9,"t":-1},{"x":1.78,"y":8.9,"t":-1.2},{"x":1.62,"y":8.6,"t":-1},{"x":1.67,"y":7.3,"t":-1},{"x":1.7,"y":7.9,"t":-1.1},{"x":1.6,"y":8.1,"t":-1},{"x":1.75,"y":10.6,"t":-1.1},{"x":1.78,"y":10.7,"t":-1.2},{"x":1.72,"y":11.2,"t":-1},{"x":1.76,"y":11.4,"t":-1.2},{"x":1.73,"y":11.9,"t":-1.1},{"x":1.77,"y":12.1,"t":-1.2},{"x":1.8,"y":12.5,"t":-1.2},{"x":1.72,"y":12.3,"t":-1.1},{"x":1.67,"y":10.5,"t":-1},{"x":1.62,"y":10,"t":-1},{"x":1.82,"y":8.4,"t":-1.3},{"x":1.78,"y":8.1,"t":-1.3},{"x":0.62,"y":0.1,"t":0.5},{"x":0.66,"y":0.05,"t":0.5},{"x":0.7,"y":0.25,"t":-0.5},{"x":0.74,"y":0.05,"t":0.6},{"x":0.77,"y":0.25,"t":1.2},{"x":0.81,"y":0.1,"t":1.4},{"x":0.84,"y":0.05,"t":0.5},{"x":0.89,"y":0.05,"t":-0.5},{"x":0.9,"y":0.3,"t":-1},{"x":0.92,"y":0.15,"t":-1},{"x":0.78,"y":0.45,"t":3},{"x":0.72,"y":0.1,"t":-0.5},{"x":0.68,"y":0.05,"t":-0.8},{"x":0.94,"y":1,"t":-0.2},{"x":0.98,"y":1.15,"t":-0.3},{"x":0.91,"y":1,"t":-0.4}],
"bar":[{"t":-1.8,"u":-1.68},{"t":-1.7,"u":-1.58},{"t":-1.6,"u":-1.48},{"t":-1.5,"u":-1.38},{"t":-1.4,"u":-1.28},{"t":-1.3,"u":-1.18},{"t":-1.2,"u":-1.08},{"t":-1.1,"u":-0.98},{"t":-1,"u":-0.88},{"t":-0.9,"u":-0.78},{"t":-0.8,"u":-0.68},{"t":-0.7,"u":-0.58},{"t":-0.6,"u":-0.48},{"t":-0.5,"u":-0.38},{"t":-0.4,"u":-0.28},{"t":-0.3,"u":-0.18},{"t":-0.2,"u":-0.08},{"t":-0.1,"u":0.02},{"t":0,"u":0.12},{"t":0.1,"u":0.22},{"t":0.2,"u":0.32},{"t":0.3,"u":0.42},{"t":0.4,"u":0.52},{"t":0.5,"u":0.62},{"t":0.6,"u":0.72},{"t":0.7,"u":0.82},{"t":0.8,"u":0.92},{"t":0.9,"u":1.02},{"t":1,"u":1.12},{"t":1.1,"u":1.22},{"t":1.2,"u":1.32},{"t":1.3,"u":1.42},{"t":1.4,"u":1.52},{"t":1.5,"u":1.62},{"t":1.6,"u":1.72},{"t":1.7,"u":1.82},{"t":1.8,"u":1.92},{"t":1.9,"u":2.02},{"t":2,"u":2.12},{"t":2.1,"u":2.22},{"t":2.2,"u":2.32},{"t":2.3,"u":2.42},{"t":2.4,"u":2.52},{"t":2.5,"u":2.62},{"t":2.6,"u":2.72},{"t":2.7,"u":2.82},{"t":2.8,"u":2.92},{"t":2.9,"u":3.02},{"t":3,"u":3.12},{"t":3.1,"u":3.22},{"t":3.2,"u":3.32},{"t":3.3,"u":3.42},{"t":3.4,"u":3.52},{"t":3.5,"u":3.62},{"t":3.6,"u":3.72},{"t":3.7,"u":3.82},{"t":3.8,"u":3.92},{"t":3.9,"u":4.02},{"t":4,"u":4.12},{"t":4.1,"u":4.22},{"t":4.2,"u":4.32},{"t":4.3,"u":4.42},{"t":4.4,"u":4.52},{"t":4.5,"u":4.62},{"t":4.6,"u":4.72},{"t":4.7,"u":4.82},{"t":4.8,"u":4.92},{"t":4.9,"u":5.02},{"t":5,"u":5.12},{"t":5.1,"u":5.22},{"t":5.2,"u":5.32},{"t":5.3,"u":5.42},{"t":5.4,"u":5.52},{"t":5.5,"u":5.62},{"t":5.6,"u":5.72},{"t":5.7,"u":5.82},{"t":5.8,"u":5.92},{"t":5.9,"u":6.02},{"t":6,"u":6.12},{"t":6.1,"u":6.22},{"t":6.2,"u":6.32},{"t":6.3,"u":6.42},{"t":6.4,"u":6.52},{"t":6.5,"u":6.62},{"t":6.6,"u":6.72},{"t":6.7,"u":6.82},{"t":6.8,"u":6.92},{"t":6.9,"u":7.02},{"t":7,"u":7.12},{"t":7.1,"u":7.22},{"t":7.2,"u":7.32},{"t":7.3,"u":7.42},{"t":7.4,"u":7.52},{"t":7.5,"u":7.62},{"t":7.6,"u":7.72},{"t":7.7,"u":7.82},{"t":7.8,"u":7.92},{"t":7.9,"u":8.02},{"t":8,"u":8.12},{"t":8.1,"u":8.22},{"t":8.2,"u":8.32},{"t":8.3,"u":8.42},{"t":8.4,"u":8.52},{"t":8.5,"u":8.62},{"t":8.6,"u":8.72},{"t":8.7,"u":8.82},{"t":8.8,"u":8.92},{"t":8.9,"u":9.02},{"t":9,"u":9.12},{"t":9.1,"u":9.22},{"t":9.2,"u":9.32},{"t":9.3,"u":9.42},{"t":9.4,"u":9.52},{"t":9.5,"u":9.62},{"t":9.6,"u":9.72},{"t":9.7,"u":9.82},{"t":9.8,"u":9.92},{"t":9.9,"u":10.02},{"t":10,"u":10.12},{"t":10.1,"u":10.22},{"t":10.2,"u":10.32},{"t":10.3,"u":10.42},{"t":10.4,"u":10.52},{"t":10.5,"u":10.62},{"t":10.6,"u":10.72},{"t":10.7,"u":10.82},{"t":10.8,"u":10.92},{"t":10.9,"u":11.02},{"t":11,"u":11.12}],
"tip":[{"t":-2,"u":-1.95,"a":0.42,"b":0.58},{"t":-1.95,"u":-1.9,"a":0.3,"b":0.7},{"t":-1.9,"u":-1.85,"a":0.17,"b":0.83},{"t":-1.85,"u":-1.79,"a":0.05,"b":0.95},{"t":11.1,"u":11.15,"a":0.05,"b":0.95},{"t":11.15,"u":11.2,"a":0.17,"b":0.83},{"t":11.2,"u":11.25,"a":0.3,"b":0.7},{"t":11.25,"u":11.3,"a":0.42,"b":0.58}],
"mark":[{"lab":"Ocean Data View","y":-1.85}],
"geo":[
{"type":"Feature","properties":{"k":"land"},"geometry":{"type":"Polygon","coordinates":[[[48,675],[305,35],[360,55],[430,72],[520,80],[600,72],[670,58],[737,35],[995,675],[880,720],[760,750],[680,762],[290,762],[150,720],[48,675]]]}},
{"type":"Feature","properties":{"k":"shelf"},"geometry":{"type":"Polygon","coordinates":[[[305,35],[360,55],[430,72],[520,80],[600,72],[670,58],[737,35],[815,300],[815,370],[700,450],[660,450],[600,430],[490,410],[410,340],[370,300],[340,240],[315,155],[270,165],[305,35]]]}},
{"type":"Feature","properties":{"k":"shelf2"},"geometry":{"type":"Polygon","coordinates":[[[737,230],[770,200],[800,300],[790,360],[660,430],[600,420],[500,395],[440,345],[395,300],[430,240],[500,375],[560,400],[635,395],[640,340],[737,230]]]}},
{"type":"Feature","properties":{"k":"island"},"geometry":{"type":"Polygon","coordinates":[[[322,75],[390,80],[362,106],[346,100],[322,75]]]}},
{"type":"Feature","properties":{"k":"sea"},"geometry":{"type":"Polygon","coordinates":[[[505,82],[600,72],[670,58],[735,38],[737,230],[640,340],[635,395],[560,400],[500,375],[440,330],[375,290],[430,240],[470,170],[505,82]]]}},
{"type":"Feature","properties":{"k":"rock"},"geometry":{"type":"Polygon","coordinates":[[[995,675],[875,392],[860,420],[825,430],[790,470],[760,490],[745,515],[700,495],[640,485],[560,470],[490,460],[440,435],[432,425],[420,420],[400,425],[350,445],[300,450],[270,480],[210,505],[240,570],[280,632],[268,640],[235,610],[205,603],[175,615],[150,620],[160,650],[190,680],[240,695],[270,700],[265,738],[290,762],[680,762],[760,750],[880,720],[995,675]]]}},
{"type":"Feature","properties":{"k":"rock"},"geometry":{"type":"Polygon","coordinates":[[[80,600],[95,573],[106,590],[80,600]]]}}],
"outline":[{"type":"Feature","properties":{},"geometry":{"type":"LineString","coordinates":[[270,762],[150,720],[48,675],[305,35],[360,55],[430,72],[520,80],[600,72],[670,58],[737,35],[995,675],[880,720],[760,750],[680,762]]}}],
"st":[{"lon":342,"lat":333},{"lon":352,"lat":322},{"lon":358,"lat":315},{"lon":363,"lat":310},{"lon":370,"lat":305},{"lon":376,"lat":298},{"lon":385,"lat":291},{"lon":400,"lat":286},{"lon":414,"lat":292},{"lon":416,"lat":297},{"lon":408,"lat":310},{"lon":392,"lat":328},{"lon":388,"lat":332},{"lon":383,"lat":340},{"lon":378,"lat":348},{"lon":374,"lat":356},{"lon":370,"lat":364},{"lon":355,"lat":412},{"lon":358,"lat":418},{"lon":388,"lat":407},{"lon":393,"lat":405},{"lon":413,"lat":395},{"lon":418,"lat":403},{"lon":434,"lat":387},{"lon":442,"lat":375},{"lon":446,"lat":372},{"lon":456,"lat":365},{"lon":462,"lat":352},{"lon":468,"lat":349},{"lon":478,"lat":358},{"lon":482,"lat":365},{"lon":476,"lat":388},{"lon":474,"lat":398},{"lon":471,"lat":405},{"lon":469,"lat":412},{"lon":467,"lat":421},{"lon":263,"lat":450},{"lon":193,"lat":500},{"lon":152,"lat":533},{"lon":150,"lat":541},{"lon":122,"lat":612},{"lon":128,"lat":617},{"lon":134,"lat":620}],
"maplab":[{"lon":1012,"lat":750,"lab":"Ocean Data View"}],
"line":[{"x":0,"y":0},{"x":1.21,"y":18.33}],
"ratio":[{"x":0.59,"y":11.15,"lab":"15/1"}]
},
"spacing":79.5,
"hconcat":[
{"spacing":16,"vconcat":[
{"spacing":4,"hconcat":[
{"spacing":0,"vconcat":[
{"width":1,"height":7,"view":{"stroke":null},"data":{"name":"mark"},"mark":{"type":"rule","opacity":0},"encoding":{}},
{"width":300,"height":333.5,"title":{"text":"TEMP its-90","fontSize":16.8,"offset":5},"data":{"name":"a"},"mark":{"type":"circle","size":40,"opacity":1,"clip":true},"encoding":{
"x":{"field":"x","type":"quantitative","scale":{"domain":[0,20],"nice":false},"axis":{"title":"NO3  um/l","titleFontSize":16.5,"labelFontSize":12.5,"values":[0,2.5,5,7.5,10,12.5,15,17.5,20],"labelExpr":"datum.value % 5 == 0 ? '' + datum.value : ''","labelAngle":0,"tickSize":{"condition":{"test":"datum.value % 5 == 0","value":4},"value":2},"tickOpacity":{"condition":{"test":"datum.value % 5 == 0","value":1},"value":0.45},"labelPadding":6,"titlePadding":3}},
"y":{"field":"y","type":"quantitative","scale":{"domain":[0,5],"nice":false},"axis":{"title":"NH4  umol/l","titleFontSize":16.5,"labelFontSize":12.5,"values":[0,0.5,1,1.5,2,2.5,3,3.5,4,4.5,5],"labelExpr":"datum.value % 1 == 0 ? '' + datum.value : ''","tickSize":{"condition":{"test":"datum.value % 1 == 0","value":4},"value":2},"tickOpacity":{"condition":{"test":"datum.value % 1 == 0","value":1},"value":0.45},"labelPadding":2,"titlePadding":8}},
"color":{"field":"t","type":"quantitative","legend":null,"scale":{"domain":[-2,-1.6,-1,-0.4,-0.1,0.3,0.9,1.3,1.6,2.1,2.6,3,3.6,4.6,5.2,5.8,6.6,7.3,8.1,9,10,10.5,11,11.3],"range":["#f5dcea","#e8b4d4","#c9559f","#dca0c8","#b9a3cf","#5a4fa2","#4f58a8","#6fa6da","#95d2ea","#a9dccf","#7ccdaa","#3fb67c","#4ab84a","#57ba38","#a3cf76","#cfe05a","#f7d316","#f3a80f","#e67320","#e4202e","#d3113f","#e8484f","#f29e7c","#f8cf90"]}}
}}]},
{"spacing":0,"vconcat":[
{"width":1,"height":32,"view":{"stroke":null},"data":{"name":"mark"},"mark":{"type":"rule","opacity":0},"encoding":{}},
{"width":20,"height":344,"view":{"stroke":null},"layer":[
{"data":{"name":"bar"},"mark":{"type":"rect"},"encoding":{"x":{"datum":0.2,"type":"quantitative","scale":{"domain":[-0.35,1]},"axis":null},"x2":{"datum":1},"y":{"field":"t","type":"quantitative","scale":{"domain":[-2,11.3],"nice":false},"axis":{"orient":"right","values":[-2,0,2,4,6,8,10],"labelExpr":"'' + datum.value","title":null,"ticks":false,"labelFontSize":11.5,"labelPadding":3}},"y2":{"field":"u"},"color":{"field":"t","type":"quantitative","legend":null,"scale":{"domain":[-2,-1.6,-1,-0.4,-0.1,0.3,0.9,1.3,1.6,2.1,2.6,3,3.6,4.6,5.2,5.8,6.6,7.3,8.1,9,10,10.5,11,11.3],"range":["#f5dcea","#e8b4d4","#c9559f","#dca0c8","#b9a3cf","#5a4fa2","#4f58a8","#6fa6da","#95d2ea","#a9dccf","#7ccdaa","#3fb67c","#4ab84a","#57ba38","#a3cf76","#cfe05a","#f7d316","#f3a80f","#e67320","#e4202e","#d3113f","#e8484f","#f29e7c","#f8cf90"]}}}},
{"data":{"name":"tip"},"mark":{"type":"rect"},"encoding":{"x":{"field":"a","type":"quantitative"},"x2":{"field":"b"},"y":{"field":"t","type":"quantitative"},"y2":{"field":"u"},"color":{"field":"t","type":"quantitative","legend":null}}},
{"data":{"name":"mark"},"mark":{"type":"text","angle":270,"align":"left","baseline":"middle","fontSize":8.2,"fontStyle":"italic","fontWeight":"bold","color":"#222"},"encoding":{"x":{"datum":-0.15,"type":"quantitative"},"y":{"field":"y","type":"quantitative"},"text":{"field":"lab"}}}
]}]}
]},
{"width":321,"height":242,"view":{"stroke":null},"projection":{"type":"identity","scale":0.33333,"translate":[-22,-11.67]},"layer":[
{"data":{"name":"geo"},"mark":{"type":"geoshape","strokeWidth":0},"encoding":{"color":{"field":"properties.k","type":"nominal","legend":null,"scale":{"domain":["land","shelf","shelf2","island","sea","rock"],"range":["#f6f3cb","#c5e1b4","#b8dec6","#f0f0c8","#aed5ec","#7f7a78"]}}}},
{"data":{"name":"outline"},"mark":{"type":"geoshape","filled":false,"stroke":"#111","strokeWidth":1.3}},
{"data":{"name":"st"},"mark":{"type":"circle","size":6,"color":"#4a3fa5","opacity":1},"encoding":{"longitude":{"field":"lon","type":"quantitative"},"latitude":{"field":"lat","type":"quantitative"}}},
{"data":{"name":"maplab"},"mark":{"type":"text","angle":270,"align":"left","baseline":"middle","fontSize":7,"color":"#333"},"encoding":{"longitude":{"field":"lon","type":"quantitative"},"latitude":{"field":"lat","type":"quantitative"},"text":{"field":"lab"}}}
]}
]},
{"spacing":2,"hconcat":[
{"spacing":0,"vconcat":[
{"width":1,"height":16.5,"view":{"stroke":null},"data":{"name":"mark"},"mark":{"type":"rule","opacity":0},"encoding":{}},
{"width":541.5,"height":522.5,"title":{"text":"TEMP its-90","fontSize":23,"offset":17},"layer":[
{"data":{"name":"b"},"mark":{"type":"circle","size":40,"opacity":1,"clip":true},"encoding":{
"x":{"field":"x","type":"quantitative","scale":{"domain":[0,3],"nice":false},"axis":{"title":"PO4  um/l","titleFontSize":20.5,"labelFontSize":15.5,"values":[0,0.25,0.5,0.75,1,1.25,1.5,1.75,2,2.25,2.5,2.75,3],"labelExpr":"datum.value % 0.5 == 0 ? '' + datum.value : ''","labelAngle":0,"tickSize":{"condition":{"test":"datum.value % 0.5 == 0","value":5},"value":3},"tickOpacity":{"condition":{"test":"datum.value % 0.5 == 0","value":1},"value":0.45},"labelPadding":8,"titlePadding":4}},
"y":{"field":"y","type":"quantitative","scale":{"domain":[0,18.93],"nice":false},"axis":{"title":"NO3  um/l","titleFontSize":20.5,"labelFontSize":15.5,"values":[0,2.5,5,7.5,10,12.5,15,17.5],"labelExpr":"datum.value % 5 == 0 ? '' + datum.value : ''","tickSize":{"condition":{"test":"datum.value % 5 == 0","value":5},"value":3},"tickOpacity":{"condition":{"test":"datum.value % 5 == 0","value":1},"value":0.45},"labelPadding":4,"titlePadding":12}},
"color":{"field":"t","type":"quantitative","legend":null,"scale":{"domain":[-2,-1.6,-1,-0.4,-0.1,0.3,0.9,1.3,1.6,2.1,2.6,3,3.6,4.6,5.2,5.8,6.6,7.3,8.1,9,10,10.5,11,11.3],"range":["#f5dcea","#e8b4d4","#c9559f","#dca0c8","#b9a3cf","#5a4fa2","#4f58a8","#6fa6da","#95d2ea","#a9dccf","#7ccdaa","#3fb67c","#4ab84a","#57ba38","#a3cf76","#cfe05a","#f7d316","#f3a80f","#e67320","#e4202e","#d3113f","#e8484f","#f29e7c","#f8cf90"]}}
}},
{"data":{"name":"line"},"mark":{"type":"line","color":"#ef3b24","strokeWidth":4.5,"strokeCap":"butt"},"encoding":{"x":{"field":"x","type":"quantitative"},"y":{"field":"y","type":"quantitative"}}},
{"data":{"name":"ratio"},"mark":{"type":"text","angle":294,"fontSize":22,"color":"#ef3b24","fontWeight":"normal","align":"center","baseline":"middle"},"encoding":{"x":{"field":"x","type":"quantitative"},"y":{"field":"y","type":"quantitative"},"text":{"field":"lab"}}}
]}]},
{"spacing":0,"vconcat":[
{"width":1,"height":52,"view":{"stroke":null},"data":{"name":"mark"},"mark":{"type":"rule","opacity":0},"encoding":{}},
{"width":28,"height":539,"view":{"stroke":null},"layer":[
{"data":{"name":"bar"},"mark":{"type":"rect"},"encoding":{"x":{"datum":0.2,"type":"quantitative","scale":{"domain":[-0.4,1]},"axis":null},"x2":{"datum":1},"y":{"field":"t","type":"quantitative","scale":{"domain":[-2,11.3],"nice":false},"axis":{"orient":"right","values":[-2,0,2,4,6,8,10],"labelExpr":"'' + datum.value","title":null,"ticks":false,"labelFontSize":14,"labelPadding":3}},"y2":{"field":"u"},"color":{"field":"t","type":"quantitative","legend":null,"scale":{"domain":[-2,-1.6,-1,-0.4,-0.1,0.3,0.9,1.3,1.6,2.1,2.6,3,3.6,4.6,5.2,5.8,6.6,7.3,8.1,9,10,10.5,11,11.3],"range":["#f5dcea","#e8b4d4","#c9559f","#dca0c8","#b9a3cf","#5a4fa2","#4f58a8","#6fa6da","#95d2ea","#a9dccf","#7ccdaa","#3fb67c","#4ab84a","#57ba38","#a3cf76","#cfe05a","#f7d316","#f3a80f","#e67320","#e4202e","#d3113f","#e8484f","#f29e7c","#f8cf90"]}}}},
{"data":{"name":"tip"},"mark":{"type":"rect"},"encoding":{"x":{"field":"a","type":"quantitative"},"x2":{"field":"b"},"y":{"field":"t","type":"quantitative"},"y2":{"field":"u"},"color":{"field":"t","type":"quantitative","legend":null}}},
{"data":{"name":"mark"},"mark":{"type":"text","angle":270,"align":"left","baseline":"middle","fontSize":10,"fontStyle":"italic","fontWeight":"bold","color":"#222"},"encoding":{"x":{"datum":-0.15,"type":"quantitative"},"y":{"field":"y","type":"quantitative"},"text":{"field":"lab"}}}
]}]}
]}
]}
